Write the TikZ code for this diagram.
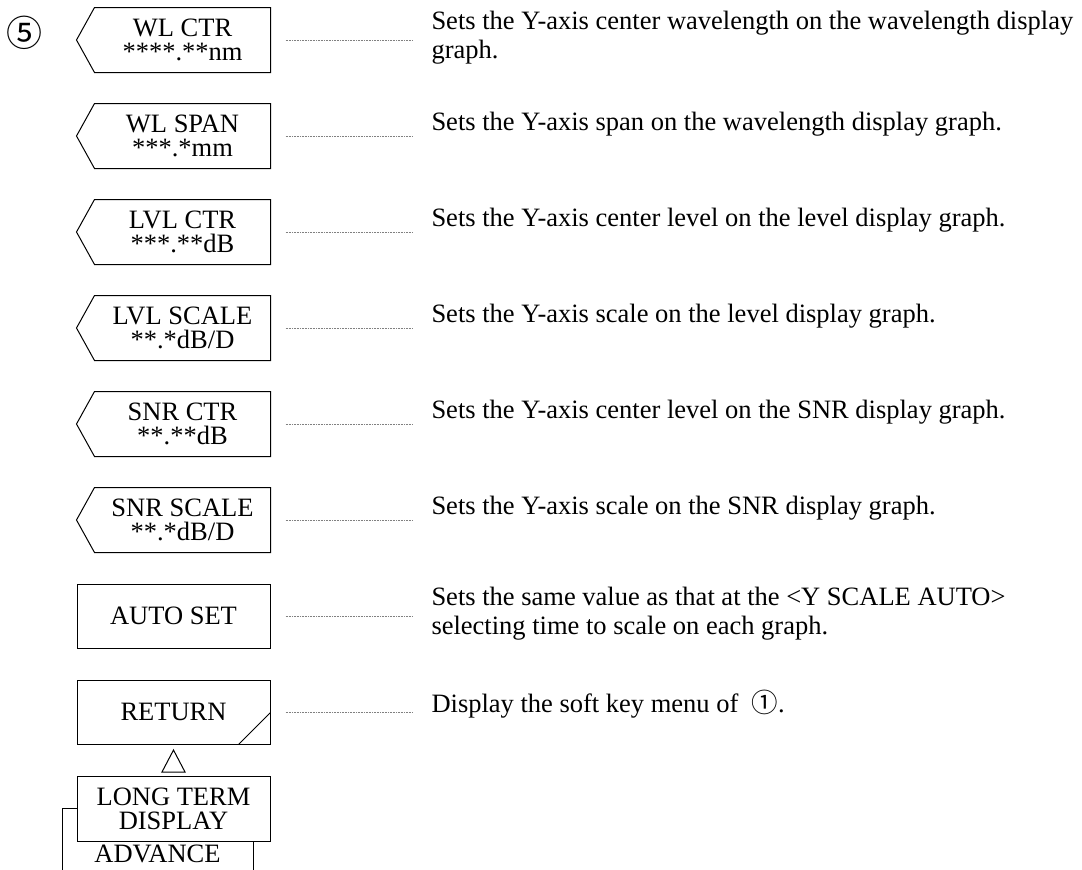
\documentclass[tikz,border=0pt]{standalone}
\usepackage{fontspec}
\setmainfont{Liberation Serif}
\newfontfamily\circfont{Noto Sans CJK JP}
\usetikzlibrary{positioning}

\begin{document}
\begin{tikzpicture}[x=1pt,y=-1pt,line width=1pt,
  key/.style={inner sep=0pt,minimum width=175pt,minimum height=64pt,align=center,font=\fontsize{26.5}{24}\selectfont},
  flatkey/.style={key,draw,fill=white,minimum width=193pt},
  desc/.style={anchor=north west,inner sep=0pt,align=left,font=\fontsize{26.5}{29}\selectfont},
  leader/.style={gray,line width=0.7pt,dash pattern=on 0.8pt off 0.8pt}]
\clip (0,0) rectangle (1082,870);
\node[inner sep=0pt,font=\circfont\fontsize{36}{36}\selectfont] (num5) at (24.5,32.5) {⑤};

% soft keys
\node[key] (wlctr) at (182.5,40) {WL CTR\\****.**nm};
\node[key] (wlspan) at (182.5,136) {WL SPAN\\***.*mm};
\node[key] (lvlctr) at (182.5,232) {LVL CTR\\***.**dB};
\node[key] (lvlscale) at (182.5,328) {LVL SCALE\\**.*dB/D};
\node[key] (snrctr) at (182.5,424) {SNR CTR\\**.**dB};
\node[key] (snrscale) at (182.5,520) {SNR SCALE\\**.*dB/D};
\foreach \k in {wlctr,wlspan,lvlctr,lvlscale,snrctr,snrscale}
  \draw (\k.north west) -- (\k.north east) -- (\k.south east) -- (\k.south west) -- ([xshift=-18pt]\k.west) -- cycle;
\node[flatkey] (autoset) at (173.5,616) {AUTO SET};
\node[flatkey] (ret) at (173.5,712) {RETURN};
\draw ([xshift=-32pt]ret.south east) -- ([yshift=32pt]ret.south east);
\draw (173.5,750) -- (185,772) -- (162,772) -- cycle;
\node[key,draw,minimum width=191pt,minimum height=92pt] (adv) at (157.5,854) {};
\node[anchor=base,inner sep=0pt,font=\fontsize{26.5}{24}\selectfont] (advtxt) at (157.5,862) {ADVANCE};
\node[flatkey,minimum height=65pt] (ltd) at (173.5,808.5) {LONG TERM\\DISPLAY};

% descriptions
\node[desc] (d1) at (431,11) {Sets the Y-axis center wavelength on the wavelength display\\graph.};
\node[desc] (d2) at (431,112) {Sets the Y-axis span on the wavelength display graph.};
\node[desc] (d3) at (431,208) {Sets the Y-axis center level on the level display graph.};
\node[desc] (d4) at (431,304) {Sets the Y-axis scale on the level display graph.};
\node[desc] (d5) at (431,400) {Sets the Y-axis center level on the SNR display graph.};
\node[desc] (d6) at (431,496) {Sets the Y-axis scale on the SNR display graph.};
\node[desc] (d7) at (431,587) {Sets the same value as that at the <Y SCALE AUTO>\\selecting time to scale on each graph.};
\node[desc] (d8) at (431,690) {Display the soft key menu of\ \ {\circfont ①}.};

% leaders
\draw[leader] ([xshift=15pt]wlctr.east) -- ([xshift=-18pt]wlctr.east -| d1.west);
\draw[leader] ([xshift=15pt]wlspan.east) -- ([xshift=-18pt]wlspan.east -| d2.west);
\draw[leader] ([xshift=15pt]lvlctr.east) -- ([xshift=-18pt]lvlctr.east -| d3.west);
\draw[leader] ([xshift=15pt]lvlscale.east) -- ([xshift=-18pt]lvlscale.east -| d4.west);
\draw[leader] ([xshift=15pt]snrctr.east) -- ([xshift=-18pt]snrctr.east -| d5.west);
\draw[leader] ([xshift=15pt]snrscale.east) -- ([xshift=-18pt]snrscale.east -| d6.west);
\draw[leader] ([xshift=15pt]autoset.east) -- ([xshift=-18pt]autoset.east -| d7.west);
\draw[leader] ([xshift=15pt]ret.east) -- ([xshift=-18pt]ret.east -| d8.west);
\end{tikzpicture}
\end{document}
